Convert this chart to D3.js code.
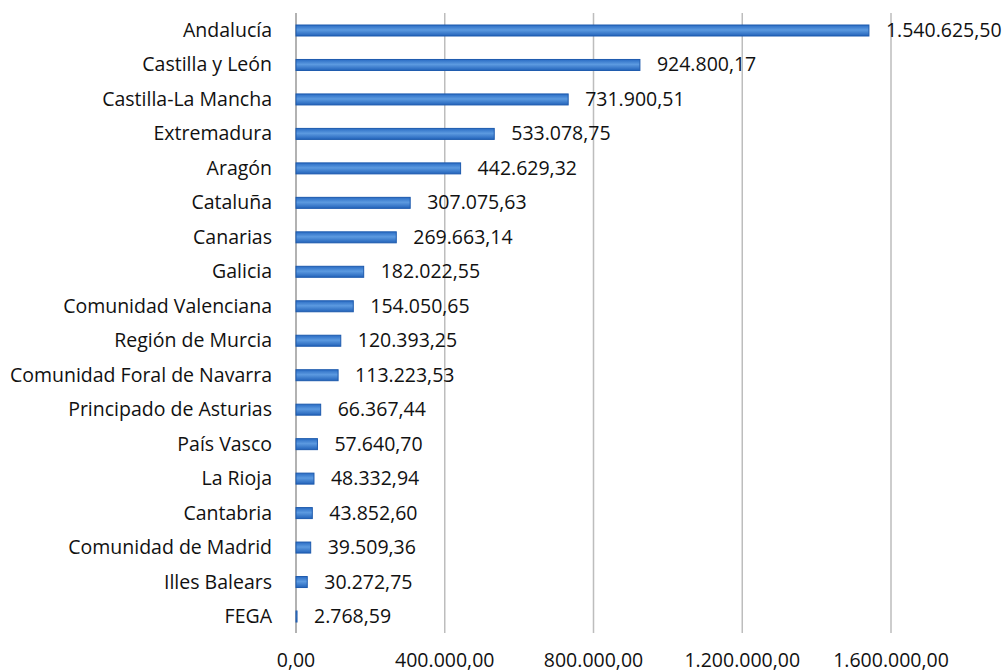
<!DOCTYPE html>
<html>
<head>
<meta charset="utf-8">
<script src="https://cdn.jsdelivr.net/npm/d3@7"></script>
<style>
  body { margin: 0; background: #fff; }
  text { font-family: "Open Sans", Lato, sans-serif; fill: #111; }
</style>
</head>
<body>
<div class="container-viewer"></div>
<script>
// datos: importe por comunidad
const regiones = ['Andalucía', 'Castilla y León', 'Castilla-La Mancha', 'Extremadura', 'Aragón', 'Cataluña',
  'Canarias', 'Galicia', 'Comunidad Valenciana', 'Región de Murcia', 'Comunidad Foral de Navarra',
  'Principado de Asturias', 'País Vasco', 'La Rioja', 'Cantabria', 'Comunidad de Madrid', 'Illes Balears', 'FEGA'];
const importes = [1540625.50, 924800.17, 731900.51, 533078.75, 442629.32, 307075.63, 269663.14, 182022.55,
  154050.65, 120393.25, 113223.53, 66367.44, 57640.70, 48332.94, 43852.60, 39509.36, 30272.75, 2768.59];
const ticks = [0, 400000, 800000, 1200000, 1600000];

const width = 1008, height = 672;
const left = 296, right = 891;
const fs = 19.5;

const svg = d3.select('.container-viewer').append('svg').attr('width', width).attr('height', height);

const x = d3.scaleLinear().domain([0, 1600000]).range([left, right]);
const y = d3.scalePoint().domain(regiones).range([30, 616]);

// formato español: miles con punto, decimales con coma
const fmt = (v) => {
  const [ent, dec] = v.toFixed(2).split('.');
  return ent.replace(/\B(?=(\d{3})+(?!\d))/g, '.') + ',' + dec;
};

const grad = svg.append('defs').append('linearGradient').attr('id', 'g').attr('x1', 0).attr('x2', 0).attr('y1', 0).attr('y2', 1);
grad.append('stop').attr('offset', '0%').attr('stop-color', '#2a6cc4');
grad.append('stop').attr('offset', '45%').attr('stop-color', '#5c9ae0');
grad.append('stop').attr('offset', '100%').attr('stop-color', '#2363ba');

// rejilla
svg.selectAll('line.grid').data(ticks).enter().append('line')
  .attr('x1', (d) => x(d)).attr('x2', (d) => x(d))
  .attr('y1', 13).attr('y2', 633)
  .attr('stroke', (d) => (d === 0 ? '#999' : '#bdbdbd')).attr('stroke-width', 1.5);

svg.selectAll('text.tick').data(ticks).enter().append('text')
  .attr('x', (d) => x(d)).attr('y', 667)
  .attr('text-anchor', 'middle').attr('font-size', fs)
  .text((d) => fmt(d));

// barras
svg.selectAll('rect.bar').data(importes).enter().append('rect')
  .attr('x', x(0)).attr('y', (d, i) => y(regiones[i]) - 5)
  .attr('width', (d) => x(d) - x(0)).attr('height', 11)
  .attr('fill', 'url(#g)').attr('stroke', '#1d5aad').attr('stroke-width', 1);

svg.selectAll('text.cat').data(regiones).enter().append('text')
  .attr('x', 272).attr('y', (d) => y(d) + 7)
  .attr('text-anchor', 'end').attr('font-size', fs)
  .text((d) => d);

svg.selectAll('text.val').data(importes).enter().append('text')
  .attr('x', (d) => x(d) + 17).attr('y', (d, i) => y(regiones[i]) + 7)
  .attr('font-size', fs)
  .text((d) => fmt(d));
</script>
</body>
</html>
